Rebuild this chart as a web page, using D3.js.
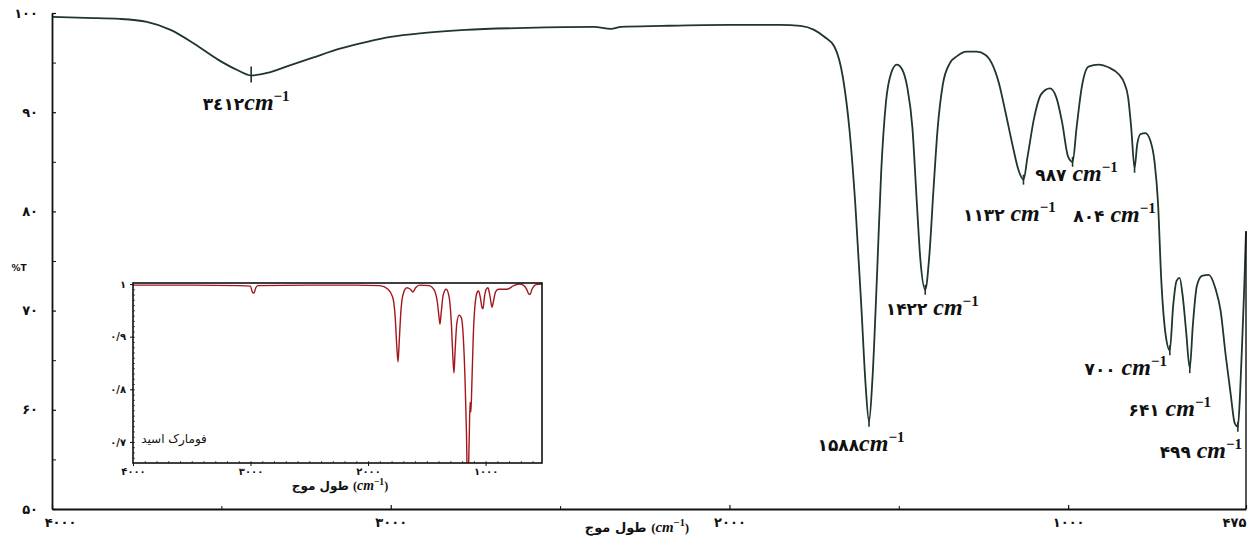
<!DOCTYPE html>
<html lang="fa">
<head>
<meta charset="utf-8">
<script src="https://cdn.jsdelivr.net/npm/d3@7"></script>
<style>
  html, body { margin: 0; padding: 0; background: #ffffff; }
  svg { display: block; }
</style>
</head>
<body>
<svg id="chart" width="1255" height="536"></svg>
<script>
// ---- FTIR spectrum (%T vs wavenumber) ----
const wavenumbers = [
  4000, 3900, 3800, 3720, 3650, 3580, 3510, 3450, 3412, 3360, 3300, 3230, 3150, 3070, 3000,
  2900, 2780, 2600, 2400, 2350, 2320, 2200, 2000, 1850, 1790, 1750, 1720, 1690, 1665, 1645,
  1628, 1610, 1598, 1588, 1578, 1565, 1552, 1538, 1522, 1506, 1490, 1475, 1460, 1447, 1436,
  1422, 1410, 1398, 1385, 1370, 1350, 1330, 1300, 1270, 1245, 1225, 1205, 1185, 1165, 1145,
  1132, 1120, 1100, 1080, 1054, 1035, 1018, 1000, 987, 975, 960, 940, 910, 880, 850,
  835, 823, 814, 804, 796, 786, 772, 758, 745, 735, 725, 712, 700, 690, 680,
  671, 662, 652, 641, 632, 620, 605, 585, 565, 550, 535, 520, 508, 499, 492,
  485, 480, 475
];
const transmittance = [
  99.6, 99.5, 99.4, 99.1, 98.3, 96.9, 95.3, 94.2, 93.7, 94.0, 94.7, 95.5, 96.4, 97.1, 97.6,
  98.0, 98.3, 98.5, 98.6, 98.4, 98.6, 98.7, 98.8, 98.8, 98.7, 98.3, 97.6, 96.6, 93.5, 88.0,
  80.5, 70.0, 62.5, 58.8, 63.0, 73.0, 84.0, 91.0, 94.0, 94.8, 94.3, 92.5, 88.5, 81.0, 75.0,
  72.1, 75.5, 82.0, 88.5, 92.8, 94.9, 95.6, 96.1, 96.1, 95.8, 94.9, 93.0, 90.0, 86.8, 84.0,
  83.2, 85.5, 89.5, 91.8, 92.4, 91.5, 89.0, 85.5, 85.0, 88.5, 92.5, 94.6, 94.8, 94.5, 93.8,
  93.0, 91.5, 88.5, 84.4, 86.8, 87.8, 87.9, 87.2, 85.0, 81.0, 73.0, 67.5, 66.0, 70.5, 73.0,
  73.3, 71.5, 68.0, 64.2, 68.5, 72.5, 73.5, 73.6, 72.2, 70.0, 65.5, 61.5, 58.6, 58.3, 62.0,
  68.0, 72.5, 78.0
];

// labelled absorption bands
const peakWavenumbers = [3412, 1588, 1422, 1132, 987, 804, 700, 641, 499];
const peakDigits = ["۳٤۱۲", "۱۵۸۸", "۱۴۲۲", "۱۱۳۲", "۹۸۷", "۸۰۴", "۷۰۰", "۶۴۱", "۴۹۹"];
const peakSpaced = [false, false, true, true, true, true, true, true, true];
// label offsets from the band minimum (px)
const peakLabelDx = [-5, -8, 7, -14, 4, -20, -44, -20, -37];
const peakLabelDy = [35, 29, 25, 41, 19, 54, 25, 48, 31];

// axis ticks
const yTicks = [50, 60, 70, 80, 90, 100];
const yMinorTicks = [55, 65, 75, 85, 95];
const xTicks = [4000, 3000, 2000, 1000, 475];
const xMinorTicks = [3500, 2500, 1500];

// ---- reference spectrum of fumaric acid (inset) ----
const insetWavenumbers = [
  4000, 3500, 3100, 3000, 2985, 2970, 2955, 2940, 2500, 2100, 1900, 1830, 1790, 1770, 1755,
  1745, 1735, 1720, 1700, 1670, 1640, 1618, 1595, 1560, 1480, 1440, 1410, 1395, 1388, 1378,
  1360, 1335, 1310, 1290, 1278, 1269, 1260, 1245, 1225, 1205, 1190, 1175, 1163, 1152, 1140,
  1132, 1125, 1118, 1105, 1090, 1070, 1060, 1045, 1030, 1022, 1010, 995, 980, 965, 950,
  945, 935, 915, 890, 820, 760, 710, 680, 650, 635, 622, 605, 570, 520
];
const insetValues = [
  0.998, 0.998, 0.997, 0.996, 0.985, 0.983, 0.993, 0.997, 0.998, 0.998, 0.997, 0.990, 0.975, 0.940, 0.880,
  0.852, 0.890, 0.950, 0.982, 0.993, 0.990, 0.985, 0.993, 0.998, 0.997, 0.990, 0.965, 0.935, 0.924, 0.945,
  0.980, 0.990, 0.975, 0.920, 0.860, 0.831, 0.870, 0.925, 0.941, 0.935, 0.900, 0.820, 0.720, 0.600, 0.700,
  0.775, 0.757, 0.800, 0.900, 0.960, 0.985, 0.987, 0.975, 0.955, 0.953, 0.975, 0.990, 0.993, 0.980, 0.960,
  0.956, 0.965, 0.985, 0.990, 0.990, 0.997, 1.000, 0.998, 0.990, 0.982, 0.980, 0.990, 0.999, 1.000
];
const insetYTicks = [0.7, 0.8, 0.9, 1];
const insetXTicks = [4000, 3000, 2000, 1000];

// ---- helpers ----
const faDigits = "۰۱۲۳۴۵۶۷۸۹";
const fa = v => String(v).replace(/[0-9]/g, d => faDigits[+d]).replace(".", "/");

const svg = d3.select("#chart");
const ink = "#111";
const spectrumColor = "#1f3628";
const insetColor = "#a3161b";
const numFont = "'DejaVu Sans', 'Noto Sans', sans-serif";
const mathFont = "'Liberation Serif', 'DejaVu Serif', serif";

// ---- main scales ----
const x = d3.scaleLinear().domain([4000, 475]).range([52, 1246]);
const y = d3.scaleLinear().domain([50, 100]).range([509, 13]);

// spectrum
const pts = wavenumbers.map((w, i) => [w, transmittance[i]]);
const line = d3.line().x(d => x(d[0])).y(d => y(d[1])).curve(d3.curveMonotoneX);
svg.append("path")
  .attr("d", line(pts))
  .attr("fill", "none")
  .attr("stroke", spectrumColor)
  .attr("stroke-width", 1.8)
  .attr("stroke-linejoin", "round");

// right edge of the frame, up to the last recorded point
svg.append("line")
  .attr("x1", x(475)).attr("x2", x(475))
  .attr("y1", y(50)).attr("y2", y(transmittance[transmittance.length - 1]))
  .attr("stroke", ink).attr("stroke-width", 1.4);

// axes
const yAxis = svg.append("g").attr("transform", `translate(${x(4000)},0)`)
  .call(d3.axisLeft(y).tickValues(yTicks).tickSize(-4).tickSizeOuter(0).tickPadding(14).tickFormat(fa));
svg.append("g").attr("transform", `translate(${x(4000)},0)`)
  .call(d3.axisLeft(y).tickValues(yMinorTicks).tickSize(-4).tickSizeOuter(0).tickFormat(""))
  .select(".domain").remove();
const xAxis = svg.append("g").attr("transform", `translate(0,${y(50)})`)
  .call(d3.axisBottom(x).tickValues(xTicks).tickSize(-4).tickSizeOuter(0).tickPadding(9).tickFormat(fa));
svg.append("g").attr("transform", `translate(0,${y(50)})`)
  .call(d3.axisBottom(x).tickValues(xMinorTicks).tickSize(-3).tickSizeOuter(0).tickFormat(""))
  .select(".domain").remove();

[yAxis, xAxis].forEach(g => {
  g.select(".domain").attr("stroke", ink).attr("stroke-width", 1.8);
  g.selectAll(".tick line").attr("stroke", ink).attr("stroke-width", 1.2);
  g.selectAll(".tick text")
    .attr("fill", ink)
    .attr("font-family", numFont)
    .attr("font-weight", "bold")
    .attr("font-size", 13);
});
svg.selectAll("g .tick line").attr("stroke", ink);
xAxis.selectAll(".tick text").filter(d => d === 4000).attr("dx", 8);
xAxis.selectAll(".tick text").filter(d => d === 475).attr("dx", -12);

// axis titles
svg.append("text")
  .attr("x", 19).attr("y", 271)
  .attr("text-anchor", "middle")
  .attr("font-family", numFont).attr("font-weight", "bold").attr("font-size", 9)
  .attr("fill", ink).text("%T");

function wavenumberTitle(sel, size) {
  sel.attr("direction", "ltr")
    .attr("font-family", numFont).attr("font-weight", "bold")
    .attr("font-size", size).attr("fill", ink);
  sel.append("tspan").text("طول موج ");
  sel.append("tspan").attr("font-family", mathFont).text("(");
  sel.append("tspan").attr("font-family", mathFont).attr("font-style", "italic").attr("font-size", size * 1.15).text("cm");
  sel.append("tspan").attr("font-family", mathFont).attr("font-size", size * 0.8).attr("dy", -size * 0.45).text("−1");
  sel.append("tspan").attr("font-family", mathFont).attr("dy", size * 0.45).text(")");
}
svg.append("text").attr("x", 637).attr("y", 532).attr("text-anchor", "middle")
  .call(wavenumberTitle, 13);

// band markers and labels
peakWavenumbers.forEach((w, i) => {
  const v = transmittance[wavenumbers.indexOf(w)];
  const px = x(w), py = y(v);
  svg.append("line")
    .attr("x1", px).attr("x2", px)
    .attr("y1", py - (i === 0 ? 9 : 5)).attr("y2", py + (i === 0 ? 7 : 5))
    .attr("stroke", spectrumColor).attr("stroke-width", 1.6);
  const t = svg.append("text")
    .attr("x", px + peakLabelDx[i]).attr("y", py + peakLabelDy[i])
    .attr("text-anchor", "middle").attr("direction", "ltr")
    .attr("fill", ink).attr("font-weight", "bold");
  t.append("tspan").attr("font-family", numFont).attr("font-size", 17)
    .text(peakDigits[i] + (peakSpaced[i] ? " " : ""));
  t.append("tspan").attr("font-family", mathFont).attr("font-style", "italic")
    .attr("font-size", 24).text("cm");
  t.append("tspan").attr("font-family", mathFont).attr("font-size", 15)
    .attr("dy", -9).text("−1");
});

// ---- inset ----
const ix = d3.scaleLinear().domain([4000, 520]).range([133, 542]);
const iy = d3.scaleLinear().domain([0.66, 1.002]).range([463, 283]);

svg.append("rect")
  .attr("x", 133).attr("y", 283).attr("width", 409).attr("height", 180)
  .attr("fill", "#ffffff");

svg.append("clipPath").attr("id", "insetClip")
  .append("rect").attr("x", 133).attr("y", 283).attr("width", 409).attr("height", 180);

const ipts = insetWavenumbers.map((w, i) => [w, insetValues[i]]);
const iline = d3.line().x(d => ix(d[0])).y(d => iy(d[1])).curve(d3.curveMonotoneX);
svg.append("path")
  .attr("d", iline(ipts))
  .attr("clip-path", "url(#insetClip)")
  .attr("fill", "none")
  .attr("stroke", insetColor)
  .attr("stroke-width", 1.4);

// inset minor ticks
svg.append("g").attr("transform", `translate(0,${iy.range()[0]})`)
  .call(d3.axisBottom(ix).tickValues(d3.range(3900, 520, -100)).tickSize(-2).tickSizeOuter(0).tickFormat(""))
  .call(g => g.select(".domain").remove())
  .selectAll("line").attr("stroke", "#333").attr("stroke-width", 0.8);
svg.append("g").attr("transform", `translate(${ix.range()[0]},0)`)
  .call(d3.axisLeft(iy).tickValues(d3.range(0.67, 1.0, 0.01)).tickSize(-2).tickSizeOuter(0).tickFormat(""))
  .call(g => g.select(".domain").remove())
  .selectAll("line").attr("stroke", "#333").attr("stroke-width", 0.8);

// inset labelled ticks
const iyAxis = svg.append("g").attr("transform", `translate(${ix.range()[0]},0)`)
  .call(d3.axisLeft(iy).tickValues(insetYTicks).tickSize(3).tickSizeOuter(0).tickPadding(4).tickFormat(fa));
const ixAxis = svg.append("g").attr("transform", `translate(0,${iy.range()[0]})`)
  .call(d3.axisBottom(ix).tickValues(insetXTicks).tickSize(3).tickSizeOuter(0).tickPadding(2).tickFormat(fa));
[iyAxis, ixAxis].forEach(g => {
  g.select(".domain").remove();
  g.selectAll(".tick line").attr("stroke", ink);
  g.selectAll(".tick text").attr("fill", ink)
    .attr("font-family", numFont).attr("font-weight", "bold").attr("font-size", 10);
});

// inset frame
svg.append("rect")
  .attr("x", 133).attr("y", 283).attr("width", 409).attr("height", 180)
  .attr("fill", "none").attr("stroke", ink).attr("stroke-width", 1.6);

svg.append("text").attr("x", 174).attr("y", 443).attr("text-anchor", "middle")
  .attr("font-family", numFont).attr("font-size", 12).attr("fill", ink)
  .text("فومارک اسید");

svg.append("text").attr("x", 340).attr("y", 490).attr("text-anchor", "middle")
  .call(wavenumberTitle, 12);
</script>
</body>
</html>
